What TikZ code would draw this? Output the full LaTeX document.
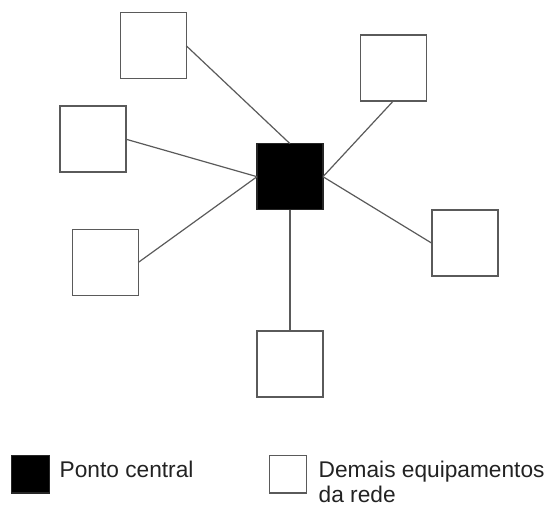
\documentclass[tikz,border=0pt]{standalone}
\usepackage{fontspec}
\setmainfont{Liberation Sans}
\definecolor{edgegray}{HTML}{5A5A5A}
\definecolor{labelgray}{HTML}{222222}
\begin{document}
\begin{tikzpicture}[x=1pt,y=-1pt,
  device/.style={draw=edgegray,fill=white,line width=1.4pt,minimum size=66pt,inner sep=0pt,outer sep=0pt},
  hub/.style={draw=black!85,fill=black,line width=1.2pt,minimum size=66pt,inner sep=0pt,outer sep=0pt},
  keydevice/.style={draw=edgegray,fill=white,line width=1.4pt,minimum size=37pt,inner sep=0pt,outer sep=0pt},
  keyhub/.style={draw=black!85,fill=black,line width=1.2pt,minimum size=37.5pt,inner sep=0pt,outer sep=0pt},
  link/.style={draw=edgegray,line width=1.2pt},
  caption/.style={anchor=base west,inner sep=0pt,text=labelgray,font=\fontsize{22.7pt}{27pt}\selectfont}]
\useasboundingbox (0,0) rectangle (550,508);

% star topology: central point and surrounding equipment
\node[hub] (hub) at (290,176.7) {};
\node[device] (tl) at (153.3,45.8) {};
\node[device] (tr) at (393.3,68) {};
\node[device] (l)  at (93,139.2) {};
\node[device] (ll) at (105.2,262.5) {};
\node[device] (r)  at (464.8,243.2) {};
\node[device] (b)  at (290,364.2) {};

\draw[link] (tl.east) -- (hub.north);
\draw[link] (tr.south) -- (hub.east);
\draw[link] (l.east) -- (hub.west);
\draw[link] (ll.east) -- (hub.west);
\draw[link] (r.west) -- (hub.east);
\draw[link] (b.north) -- (hub.south);

% legend
\node[keyhub] (keyA) at (30.5,474.3) {};
\node[caption] (txtA) at (59.5,477.8) {Ponto central};
\node[keydevice] (keyB) at (288,474.3) {};
\node[caption] (txtB1) at (318.5,477.5) {Demais equipamentos};
\node[caption] (txtB2) at (318.5,503) {da rede};
\end{tikzpicture}
\end{document}
